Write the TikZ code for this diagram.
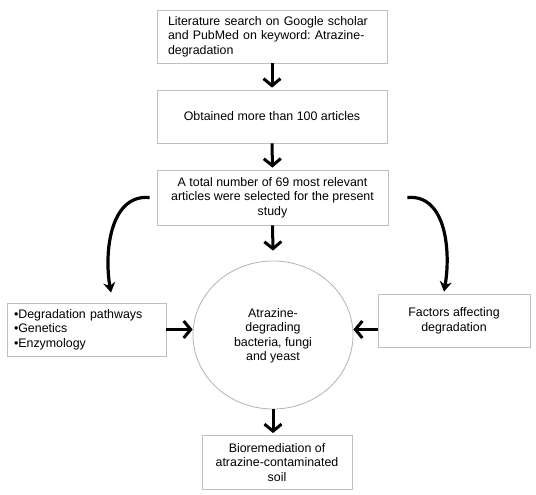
\documentclass[tikz,border=0pt]{standalone}
\usepackage{fontspec}
\setmainfont{Liberation Sans}
\usetikzlibrary{arrows.meta,shapes.geometric}
\frenchspacing

\tikzset{
	flowbox/.style={draw=black!25,line width=0.8pt,minimum height=53pt,inner sep=0pt,
		font=\fontsize{12.4}{14.6}\selectfont},
	flowarrow/.style={line width=3pt,-{Straight Barb[length=7pt,width=17pt]}},
	bendarrow/.style={line width=3.2pt,-{Stealth[length=10pt,width=12pt]}}
}

\begin{document}
\begin{tikzpicture}[x=1pt,y=1pt]
			\useasboundingbox (0,0) rectangle (536,495);
			% main column
			\node[flowbox,minimum width=230pt,text width=208pt,align=left] (search) at (272,458.5) {Literature search on Google scholar\\and PubMed on keyword: Atrazine-\\degradation};
			\node[flowbox,minimum width=230pt,align=center] (obtained) at (272,378.5) {Obtained more than 100 articles};
			\node[flowbox,minimum width=231pt,minimum height=55pt,align=center] (selected) at (272.5,297.5) {A total number of 69 most relevant\\articles were selected for the present\\study};
			\node[flowbox,ellipse,draw=black!30,minimum width=160pt,minimum height=148pt,align=center] (microbes) at (273,160) {\\[-4pt]Atrazine-\\degrading\\bacteria, fungi\\and yeast};
			\node[flowbox,minimum width=150pt,minimum height=54pt,align=center] (bioremed) at (277,32.5) {Bioremediation of\\atrazine-contaminated\\soil};
			% side boxes
			\node[flowbox,minimum width=159pt,text width=145pt,align=left] (aspects) at (86.5,165.5) {\textbullet Degradation pathways\\\textbullet Genetics\\\textbullet Enzymology};
			\node[flowbox,minimum width=152pt,align=center] (factors) at (454,174.5) {Factors affecting\\degradation};
			% arrows
			\draw[flowarrow] (search.south) -- ([yshift=2pt]obtained.north);
			\draw[flowarrow] (obtained.south) -- ([yshift=2pt]selected.north);
			\draw[flowarrow] (selected.south) -- ([yshift=10pt]microbes.north);
			\draw[flowarrow] (microbes.south) -- ([yshift=2pt]bioremed.north -| microbes.south);
			\draw[flowarrow] (aspects.east) -- (aspects.east -| microbes.west);
			\draw[flowarrow] ([yshift=-9pt]factors.west) -- ([yshift=-9pt]factors.west -| microbes.east);
			\draw[bendarrow] ([xshift=-7pt]selected.west) to[out=175,in=100] ([xshift=24.5pt,yshift=10pt]aspects.north);
			\draw[bendarrow] ([xshift=19pt]selected.east) to[out=5,in=80] ([xshift=-10pt,yshift=2pt]factors.north);
		\end{tikzpicture}
\end{document}
